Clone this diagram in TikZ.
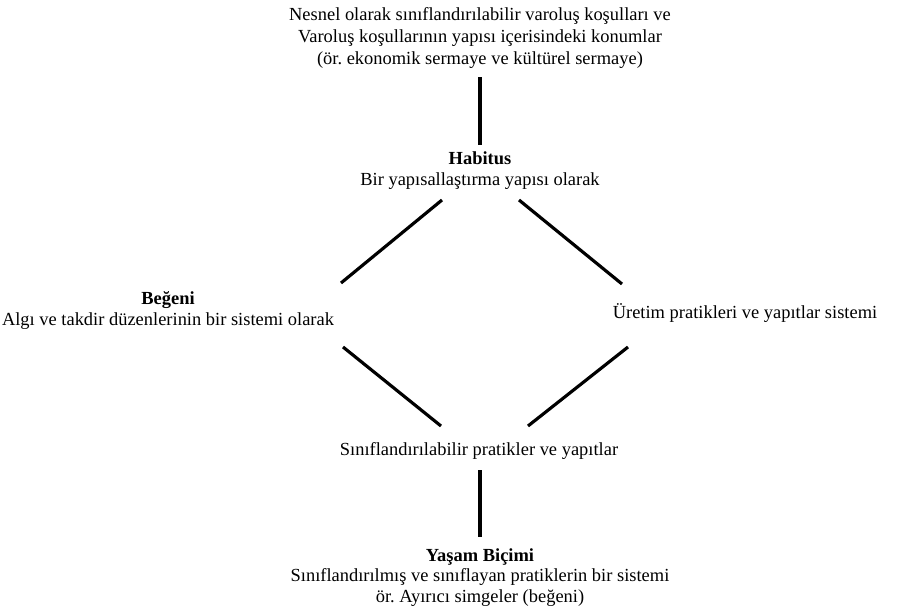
\documentclass[tikz,border=0pt]{standalone}
\usepackage{fontspec}
\setmainfont{Liberation Serif}
\usepackage{tikz}
\usetikzlibrary{positioning}
\frenchspacing

\begin{document}
\begin{tikzpicture}[
    x=0.02cm, y=-0.02cm,
    txt/.style={inner sep=0pt, align=center, font=\fontsize{10.5}{11.8}\selectfont},
    toptxt/.style={txt, font=\fontsize{10.5}{12.5}\selectfont},
    link/.style={line width=1.8pt}
]
\useasboundingbox (0,0) rectangle (899,612);

\node[toptxt] (kosul) at (480,38) {Nesnel olarak sınıflandırılabilir varoluş koşulları ve\\Varoluş koşullarının yapısı içerisindeki konumlar\\(ör. ekonomik sermaye ve kültürel sermaye)};
\node[txt] (habitus) at (480,170.5) {\textbf{Habitus}\\Bir yapısallaştırma yapısı olarak};
\node[txt] (begeni) at (168,310.5) {\textbf{Beğeni}\\Algı ve takdir düzenlerinin bir sistemi olarak};
\node[txt] (uretim) at (745,313) {Üretim pratikleri ve yapıtlar sistemi};
\node[txt] (pratik) at (479,451) {Sınıflandırılabilir pratikler ve yapıtlar};
\node[txt] (yasam) at (480,577.5) {\textbf{Yaşam Biçimi}\\Sınıflandırılmış ve sınıflayan pratiklerin bir sistemi\\ör. Ayırıcı simgeler (beğeni)};

% line ends
\coordinate (k1) at (480,77);
\coordinate (k2) at (480,145);
\coordinate (hl) at (442,200);
\coordinate (bu) at (341,283);
\coordinate (hr) at (519,200);
\coordinate (uu) at (622,284);
\coordinate (bd) at (343,347);
\coordinate (pl) at (441,426);
\coordinate (ud) at (628,347);
\coordinate (pr) at (528,426);
\coordinate (p1) at (480,470);
\coordinate (p2) at (480,537);

\draw[link] (k1) -- (k2);
\draw[link] (hl) -- (bu);
\draw[link] (hr) -- (uu);
\draw[link] (bd) -- (pl);
\draw[link] (ud) -- (pr);
\draw[link] (p1) -- (p2);
\end{tikzpicture}
\end{document}
